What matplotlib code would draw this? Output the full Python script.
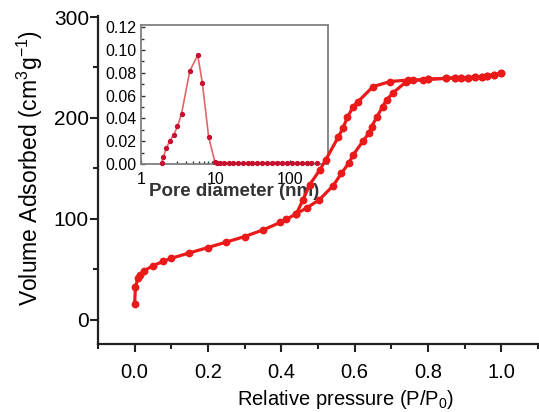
import matplotlib
matplotlib.use("Agg")
import matplotlib.pyplot as plt
from matplotlib.ticker import MultipleLocator, LogLocator, FixedLocator, FixedFormatter, NullFormatter

plt.rcParams['font.family'] = ['Liberation Sans', 'DejaVu Sans']
plt.rcParams['mathtext.fontset'] = 'custom'
plt.rcParams['mathtext.rm'] = 'Liberation Sans'
plt.rcParams['mathtext.it'] = 'Liberation Sans:italic'
plt.rcParams['mathtext.default'] = 'rm'

# ---- main isotherm data ----
ads_p = [0.0, 0.002, 0.009, 0.014, 0.025, 0.05, 0.077, 0.10, 0.147, 0.20, 0.25, 0.30,
         0.35, 0.397, 0.414, 0.441, 0.470, 0.503, 0.541, 0.564, 0.585, 0.596, 0.623,
         0.640, 0.646, 0.660, 0.676, 0.687, 0.705, 0.741, 0.760, 0.800, 0.850, 0.873,
         0.891, 0.909, 0.928, 0.946, 0.961, 0.980, 1.0]
ads_v = [15.8, 32.4, 41.3, 44.6, 48.5, 53.5, 57.8, 61.0, 66.0, 71.6, 77.0, 82.5,
         89.0, 96.4, 99.7, 105.0, 111.0, 118.8, 132.7, 145.2, 155.8, 163.4, 177.2,
         185.4, 191.4, 200.5, 211.2, 217.8, 225.0, 236.0, 237.3, 238.3, 239.3, 239.6,
         239.8, 240.0, 240.3, 241.0, 242.0, 242.6, 244.2]

des_p = [1.0, 0.98, 0.961, 0.946, 0.928, 0.909, 0.891, 0.873, 0.850, 0.800, 0.787,
         0.746, 0.696, 0.650, 0.609, 0.596, 0.580, 0.568, 0.555, 0.521, 0.505, 0.477,
         0.459, 0.441]
des_v = [244.2, 242.6, 242.0, 241.0, 240.3, 240.0, 239.8, 239.6, 239.3, 238.3, 237.6,
         237.6, 236.0, 231.0, 216.1, 211.2, 200.5, 189.8, 180.9, 158.4, 148.5, 133.7,
         118.8, 105.0]

# ---- pore size distribution (inset) ----
pore_d = [1.89, 1.99, 2.18, 2.44, 2.75, 3.08, 3.49, 4.5, 5.75, 6.64, 8.07, 9.8,
          10.5, 11.5, 13.0, 15.0, 17.0, 20.0, 23.0, 27.0, 31.0, 36.0, 42.0, 49.0,
          57.0, 66.0, 77.0, 90.0, 105.0, 122.0, 142.0, 165.0, 192.0, 225.0]
pore_v = [0.0006, 0.006, 0.0138, 0.0205, 0.0257, 0.033, 0.044, 0.0816, 0.0956,
          0.071, 0.0234, 0.0015, 0.0010, 0.0008, 0.0007, 0.0006, 0.0006, 0.0005,
          0.0005, 0.0005, 0.0005, 0.0005, 0.0005, 0.0005, 0.0005, 0.0005, 0.0005,
          0.0005, 0.0005, 0.0005, 0.0005, 0.0005, 0.0005, 0.0005]

x_ticks = [0.0, 0.2, 0.4, 0.6, 0.8, 1.0]
y_ticks = [0, 100, 200, 300]
inset_y_ticks = [0.00, 0.02, 0.04, 0.06, 0.08, 0.10, 0.12]
inset_x_ticks = [1, 10, 100]

W, H = 539, 412
fig = plt.figure(figsize=(W / 100, H / 100), dpi=100)

ax = fig.add_axes([98 / W, 1 - 344 / H, 440 / W, 328 / H])
red = '#ea1a1a'
for px, vy in ((ads_p, ads_v), (des_p, des_v)):
    ax.plot(px, vy, '-o', color=red, lw=2.3, ms=4.6, mec=red, mfc=red, zorder=5,
            clip_on=False)
ax.set_xlim(-0.1, 1.1)
ax.set_ylim(-24, 301)
ax.set_xticks(x_ticks)
ax.set_xticklabels([f"{t:.1f}" for t in x_ticks])
ax.set_yticks(y_ticks)
ax.xaxis.set_minor_locator(MultipleLocator(0.1))
ax.yaxis.set_minor_locator(MultipleLocator(50))
for s in ['top', 'right']:
    ax.spines[s].set_visible(False)
for s in ['left', 'bottom']:
    ax.spines[s].set_linewidth(1.6)
    ax.spines[s].set_color('#222222')
ax.tick_params(axis='both', which='major', direction='out', length=5.5, width=1.5,
               color='#222222')
ax.tick_params(axis='both', which='minor', direction='out', length=3.5, width=1.5,
               color='#222222')
ax.tick_params(axis='x', which='major', pad=8, labelsize=14.5)
ax.tick_params(axis='y', which='major', pad=1, labelsize=15)
ax.set_xlabel('Relative pressure (P/P$_0$)', fontsize=14.5)
ax.xaxis.set_label_coords((346 - 98) / 440, (344 - 388) / 328)
ax.set_ylabel('Volume Adsorbed (cm$^3$g$^{-1}$)', fontsize=16.5)
ax.yaxis.set_label_coords((45 - 98) / 440, (344 - 168) / 328)
ax.patch.set_alpha(0)
ax.set_zorder(3)

# ---- inset ----
ai = fig.add_axes([141 / W, 1 - 164 / H, 187 / W, 139 / H])
ai.set_zorder(1)
ai.plot(pore_d, pore_v, '-', color='#e06666', lw=1.2, zorder=2, clip_on=False)
ai.plot(pore_d, pore_v, 'o', color='#c8102e', ms=2.8, zorder=3, clip_on=False)
ai.set_xscale('log')
ai.set_xlim(1, 320)
ai.set_ylim(0, 0.122)
ai.set_yticks(inset_y_ticks)
ai.set_yticklabels([f"{t:.2f}" for t in inset_y_ticks])
ai.yaxis.set_minor_locator(MultipleLocator(0.01))
ai.xaxis.set_major_locator(FixedLocator(inset_x_ticks))
ai.xaxis.set_major_formatter(FixedFormatter([str(t) for t in inset_x_ticks]))
ai.xaxis.set_minor_locator(LogLocator(base=10, subs=range(2, 10)))
ai.xaxis.set_minor_formatter(NullFormatter())
for s in ai.spines.values():
    s.set_color('#808080')
    s.set_linewidth(1.3)
ai.tick_params(axis='both', which='major', direction='in', length=3, width=1,
               color='#333333', labelsize=11.5)
ai.tick_params(axis='both', which='minor', direction='in', length=2, width=1,
               color='#333333')
ai.tick_params(axis='y', which='major', pad=3)
ai.tick_params(axis='x', which='major', pad=6)
ai.set_xlabel('Pore diameter (nm)', fontsize=13.5, fontweight='bold', color='#333333')
ai.xaxis.set_label_coords(0.5, (164 - 183) / 139)

fig.savefig('out.png', dpi=100)
